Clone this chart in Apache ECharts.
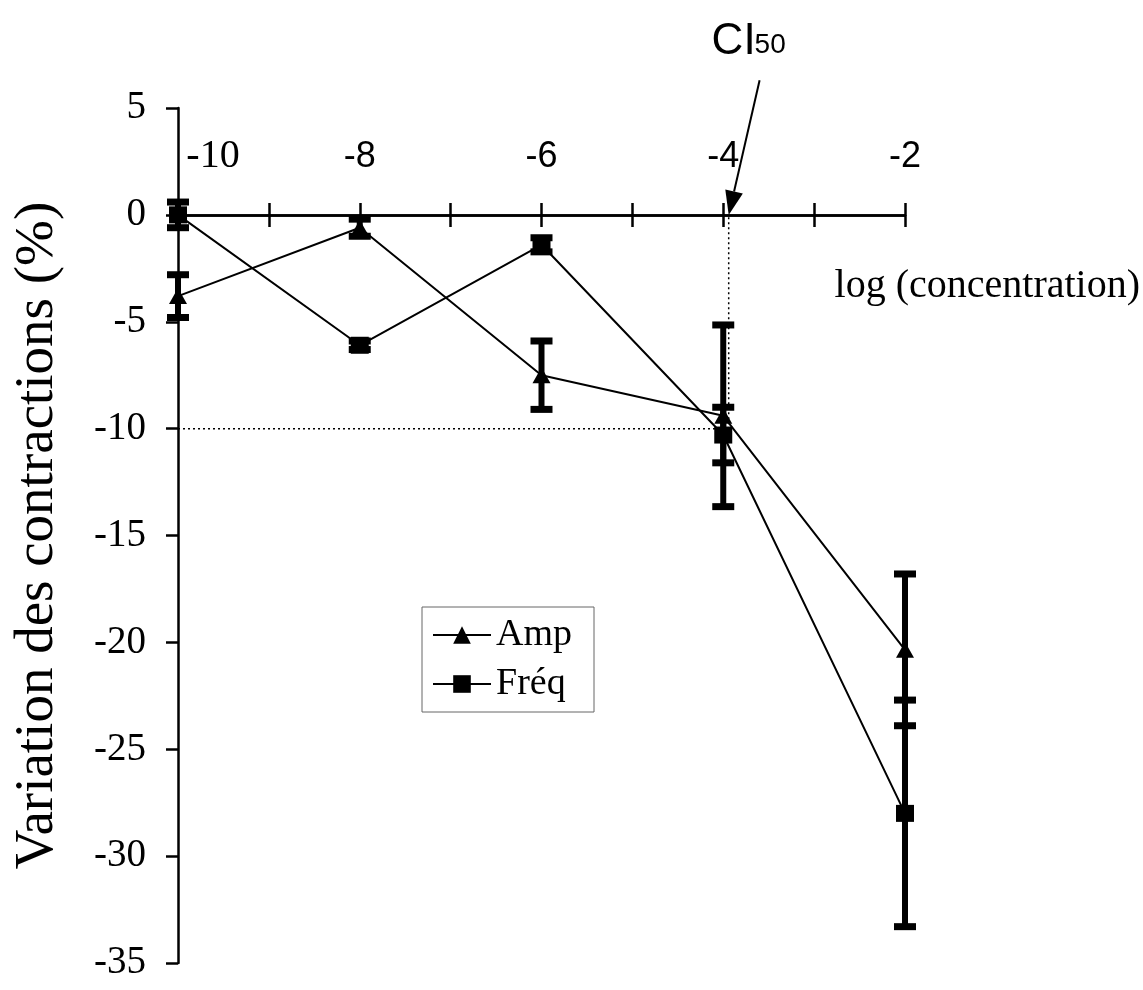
<!DOCTYPE html>
<html>
<head>
<meta charset="utf-8">
<script src="https://cdn.jsdelivr.net/npm/echarts@6/dist/echarts.min.js"></script>
<style>
  html, body { margin: 0; padding: 0; background: #fff; }
  #chart { width: 1143px; height: 990px; }
</style>
</head>
<body>
<div id="chart"></div>
<script>
// log(concentration) at which contractions were measured
const logConc = [-10, -8, -6, -4, -2];
// Amplitude: mean variation (%) and error half-width
const ampMean = [-3.8, -0.6, -7.5, -9.4, -20.35];
const ampErr = [1.0, 0.4, 1.6, 4.25, 3.55];
// Frequency: mean variation (%) and error half-width
const freqMean = [0, -6.1, -1.4, -10.3, -28.0];
const freqErr = [0.6, 0.2, 0.33, 1.3, 5.3];
// labelled ticks of the concentration axis
const xTickValues = [-10, -8, -6, -4, -2];
const xTickLabels = ['-10', '-8', '-6', '-4', '-2'];
// IC50 read-off: log concentration giving a -10 % variation
const ic50Log = -3.94;
const ic50Level = -10;
// start of the IC50 pointer arrow (data units, above the plot)
const arrowFrom = [-3.60, 6.3];

const SERIF = '"Liberation Serif", "Times New Roman", serif';
const SANS = '"Liberation Sans", Arial, sans-serif';

const chart = echarts.init(document.getElementById('chart'), null, { renderer: 'canvas' });

function errorBars(mean, err) {
  return {
    type: 'custom',
    silent: true,
    z: 4,
    data: logConc.map((x, i) => [x, mean[i] - err[i], mean[i] + err[i]]),
    encode: { x: 0, y: [1, 2] },
    renderItem(params, api) {
      const lo = api.coord([api.value(0), api.value(1)]);
      const hi = api.coord([api.value(0), api.value(2)]);
      const cw = 11;
      const st = { stroke: '#000', lineWidth: 6 };
      const cap = { stroke: '#000', lineWidth: 7 };
      return {
        type: 'group',
        children: [
          { type: 'line', shape: { x1: lo[0], y1: lo[1], x2: hi[0], y2: hi[1] }, style: st },
          { type: 'line', shape: { x1: lo[0] - cw, y1: lo[1], x2: lo[0] + cw, y2: lo[1] }, style: cap },
          { type: 'line', shape: { x1: hi[0] - cw, y1: hi[1], x2: hi[0] + cw, y2: hi[1] }, style: cap }
        ]
      };
    }
  };
}

const refLine = [[-10, ic50Level], [ic50Log, ic50Level], [ic50Log, 0]];
const gridBox = { left: 178, right: 238, top: 108, bottom: 27, containLabel: false };
const axisLineStyle = { color: '#000', width: 2.5 };

const option = {
  animation: false,
  backgroundColor: '#fff',
  grid: [gridBox, Object.assign({}, gridBox)],
  legend: {
    data: ['Amp', 'Fréq'],
    orient: 'vertical',
    left: 422,
    top: 607,
    padding: [9, 22, 9, 10],
    itemGap: 11,
    itemWidth: 58,
    itemHeight: 22,
    borderColor: '#666',
    borderWidth: 1,
    textStyle: { fontFamily: SERIF, fontSize: 38, color: '#000' }
  },
  xAxis: [
    {
      gridIndex: 0, type: 'value', min: -10, max: -2, interval: 1, position: 'top',
      axisLine: { onZero: true, lineStyle: axisLineStyle },
      axisTick: { show: true, length: 12, lineStyle: axisLineStyle },
      axisLabel: { show: false },
      splitLine: { show: false }
    },
    {
      // lower half of the crossing ticks on the zero line
      gridIndex: 1, type: 'value', min: -10, max: -2, interval: 1, position: 'bottom',
      axisLine: { onZero: true, lineStyle: axisLineStyle },
      axisTick: { show: true, length: 12, lineStyle: axisLineStyle },
      axisLabel: { show: false },
      splitLine: { show: false }
    }
  ],
  yAxis: [
    {
      gridIndex: 0, type: 'value', min: -35, max: 5, interval: 5,
      axisLine: { onZero: false, lineStyle: axisLineStyle },
      axisTick: { show: true, length: 12, lineStyle: axisLineStyle },
      splitLine: { show: false },
      axisLabel: { margin: 32, fontFamily: SERIF, fontSize: 39, color: '#000' },
      name: 'Variation des contractions (%)',
      nameLocation: 'middle',
      nameGap: 113,
      nameTextStyle: { fontFamily: SERIF, fontSize: 55, color: '#000' }
    },
    {
      gridIndex: 1, type: 'value', min: -35, max: 5, interval: 5,
      axisLine: { show: false, onZero: false },
      axisTick: { show: false },
      axisLabel: { show: false },
      splitLine: { show: false }
    }
  ],
  series: [
    {
      name: 'IC50 read-off', type: 'line', data: refLine, showSymbol: false, symbol: 'none',
      silent: true, z: 1,
      lineStyle: { color: '#000', width: 1.5, type: [2, 3] }
    },
    {
      name: 'Amp', type: 'line', data: logConc.map((x, i) => [x, ampMean[i]]),
      symbol: 'triangle', symbolSize: [18, 16], z: 5,
      itemStyle: { color: '#000' }, lineStyle: { color: '#000', width: 2 }
    },
    {
      name: 'Fréq', type: 'line', data: logConc.map((x, i) => [x, freqMean[i]]),
      symbol: 'rect', symbolSize: [18, 17], z: 5,
      itemStyle: { color: '#000' }, lineStyle: { color: '#000', width: 2 }
    },
    errorBars(ampMean, ampErr),
    errorBars(freqMean, freqErr),
    {
      // tick labels above the zero line
      name: 'x tick labels', type: 'custom', silent: true, z: 6, clip: false,
      data: xTickValues.map((v, i) => [v, 0, i]),
      encode: { x: 0, y: 1 },
      renderItem(params, api) {
        const p = api.coord([api.value(0), api.value(1)]);
        const i = api.value(2);
        const first = i === 0;
        return {
          type: 'text',
          x: p[0] + (first ? 35 : 0),
          y: p[1] - 58,
          style: {
            text: xTickLabels[i],
            fontFamily: first ? SERIF : SANS,
            fontSize: first ? 40 : 36,
            fill: '#000',
            align: 'center',
            verticalAlign: 'middle'
          }
        };
      }
    }
  ]
};

chart.setOption(option);

// IC50 annotation: arrow from the label down to the x-axis crossing
const tip = chart.convertToPixel({ gridIndex: 0 }, [ic50Log, 0]);
const tail = chart.convertToPixel({ gridIndex: 0 }, arrowFrom);
const dx = tip[0] - tail[0], dy = tip[1] - tail[1];
const len = Math.hypot(dx, dy);
const ux = dx / len, uy = dy / len;
const headLen = 24, headHalf = 9;
const base = [tip[0] - ux * headLen, tip[1] - uy * headLen];
const nx = -uy, ny = ux;

chart.setOption({
  graphic: [
    { type: 'line', silent: true, z: 10,
      shape: { x1: tail[0], y1: tail[1], x2: base[0], y2: base[1] },
      style: { stroke: '#000', lineWidth: 2 } },
    { type: 'polygon', silent: true, z: 10,
      shape: { points: [tip, [base[0] + nx * headHalf, base[1] + ny * headHalf], [base[0] - nx * headHalf, base[1] - ny * headHalf]] },
      style: { fill: '#000' } },
    { type: 'text', silent: true, z: 10, x: tail[0] - 48, y: tail[1] - 60,
      style: { text: 'CI', fontFamily: SANS, fontSize: 44, fill: '#000', verticalAlign: 'top' } },
    { type: 'text', silent: true, z: 10, x: tail[0] - 5, y: tail[1] - 49,
      style: { text: '50', fontFamily: SANS, fontSize: 28, fill: '#000', verticalAlign: 'top' } },
    { type: 'text', silent: true, z: 10, right: 3, top: 266,
      style: { text: 'log (concentration)', fontFamily: SERIF, fontSize: 40, fill: '#000' } }
  ]
});
</script>
</body>
</html>
